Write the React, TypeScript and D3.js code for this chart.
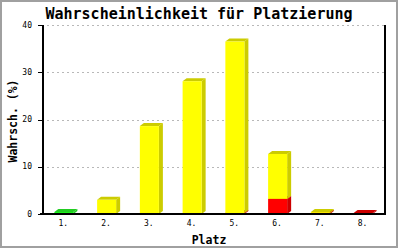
import React from "react";
import * as d3 from "d3";

const categories = ["1.", "2.", "3.", "4.", "5.", "6.", "7.", "8."];
const redValues = [0, 0, 0, 0, 0.2, 3.2, 0.2, 0.2];
const yellowValues = [0, 3.0, 18.6, 28.1, 36.3, 9.5, 0.2, 0];
const greenValues = [0.4, 0, 0, 0, 0, 0, 0, 0];
const yTicks = [0, 10, 20, 30, 40];

const series = [
  { values: redValues, front: "#ff0000", shade: "#cc0000" },
  { values: yellowValues, front: "#ffff00", shade: "#cccc00" },
  { values: greenValues, front: "#00ee00", shade: "#22cc22" },
];

const W = 400;
const H = 250;
const left = 43;
const right = 385;
const top = 25;
const bottom = 214;
const dx = 4;
const dy = 3;
const mono = "'DejaVu Sans Mono', monospace";

export default function App() {
  const x = d3
    .scaleBand<string>()
    .domain(categories)
    .range([left, right])
    .paddingInner(0.555)
    .paddingOuter(0.2775);
  const y = d3.scaleLinear().domain([0, 40]).range([bottom, top]);
  const bw = x.bandwidth();

  const segs: JSX.Element[] = [];
  categories.forEach((c, i) => {
    let base = 0;
    series.forEach((s, si) => {
      const v = s.values[i];
      if (v <= 0) return;
      const x0 = (x(c) as number) - 0.5;
      const x1 = x0 + bw;
      const yb = y(base);
      const yt = y(base + v);
      base += v;
      segs.push(
        <g key={`${i}-${si}`}>
          <polygon
            points={`${x1},${yt} ${x1 + dx},${yt - dy} ${x1 + dx},${yb - dy} ${x1},${yb}`}
            fill={s.shade}
          />
          <polygon
            points={`${x0},${yt} ${x0 + dx},${yt - dy} ${x1 + dx},${yt - dy} ${x1},${yt}`}
            fill={s.shade}
          />
          <rect x={x0} y={yt} width={bw} height={yb - yt} fill={s.front} />
        </g>
      );
    });
  });

  return (
    <svg
      width={W}
      height={H}
      style={{ position: "absolute", left: 0, top: 0, display: "block" }}
    >
      <rect x={0} y={0} width={W} height={H} fill="#ffffff" />
      <rect
        x={1}
        y={1}
        width={396}
        height={246}
        fill="none"
        stroke="#a0a0a0"
        strokeWidth={2}
      />
      <text
        x={199}
        y={18.5}
        textAnchor="middle"
        fontFamily={mono}
        fontWeight="bold"
        fontSize={15}
        fill="#000"
      >
        Wahrscheinlichkeit für Platzierung
      </text>
      {yTicks
        .filter((t) => t > 0)
        .map((t) => (
          <line
            key={`g${t}`}
            x1={left + 4}
            x2={right}
            y1={Math.round(y(t)) + 0.5}
            y2={Math.round(y(t)) + 0.5}
            stroke="#b8b8b8"
            strokeDasharray="2,3"
          />
        ))}
      {segs}
      <line x1={left} x2={left} y1={top} y2={bottom + 1} stroke="#000" strokeWidth={2} />
      <line x1={right} x2={right} y1={top} y2={bottom + 1} stroke="#000" strokeWidth={2} />
      <line x1={left - 3} x2={right + 1} y1={bottom} y2={bottom} stroke="#000" strokeWidth={2} />
      {yTicks.map((t) => (
        <g key={`t${t}`}>
          <line
            x1={left - 5}
            x2={left}
            y1={Math.round(y(t)) + 0.5}
            y2={Math.round(y(t)) + 0.5}
            stroke="#000"
          />
          <text
            x={32}
            y={y(t)}
            textAnchor="end"
            dominantBaseline="central"
            fontFamily={mono}
            fontSize={8}
            fill="#000"
          >
            {t}
          </text>
        </g>
      ))}
      {categories.map((c) => (
        <text
          key={`x${c}`}
          x={(x(c) as number) + bw / 2 - 1}
          y={226}
          textAnchor="middle"
          fontFamily={mono}
          fontSize={8}
          fill="#000"
        >
          {c}
        </text>
      ))}
      <text
        x={209}
        y={243.5}
        textAnchor="middle"
        fontFamily={mono}
        fontWeight="bold"
        fontSize={11.5}
        fill="#000"
      >
        Platz
      </text>
      <text
        transform={`translate(16.5,121) rotate(-90)`}
        textAnchor="middle"
        fontFamily={mono}
        fontWeight="bold"
        fontSize={11.5}
        fill="#000"
      >
        Wahrsch. (%)
      </text>
    </svg>
  );
}
